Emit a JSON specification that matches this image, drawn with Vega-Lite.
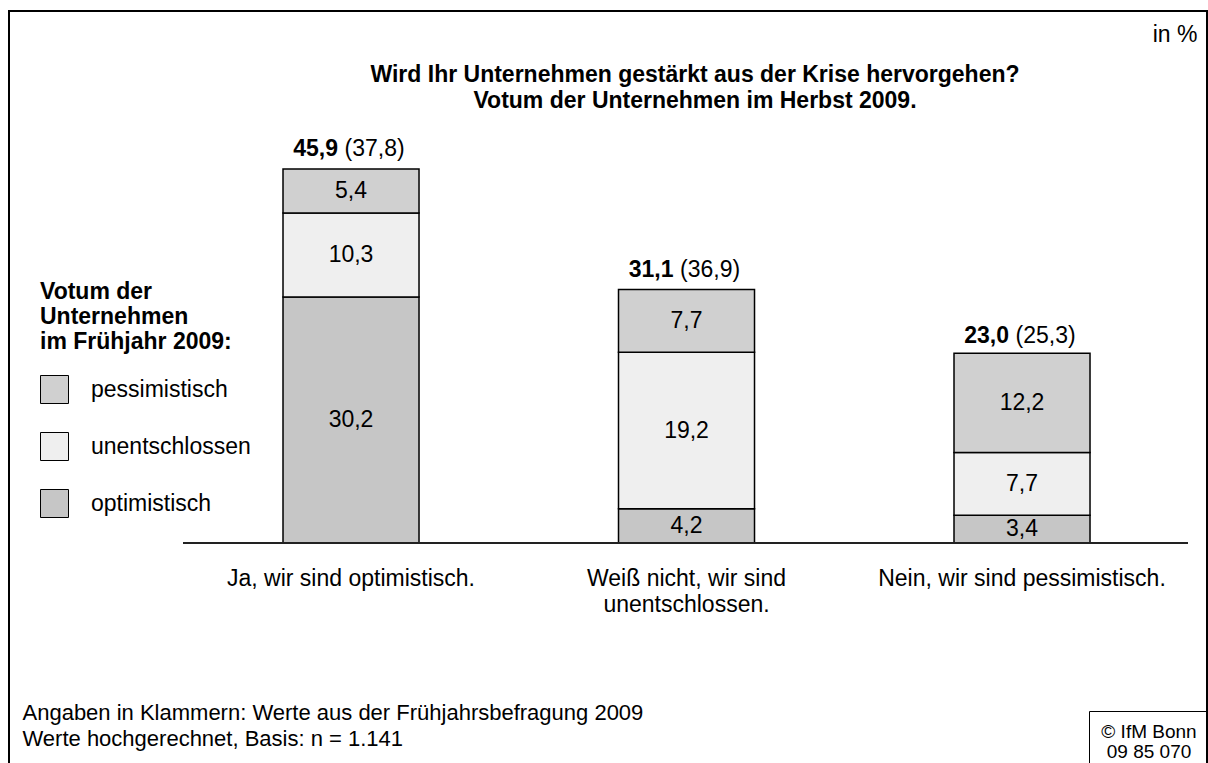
{
  "$schema": "https://vega.github.io/schema/vega-lite/v6.json",
  "autosize": {"type": "none"},
  "width": 1198,
  "height": 752,
  "padding": {"left": 9, "top": 11, "right": 1, "bottom": 0},
  "background": "white",
  "config": {
    "font": "Liberation Sans",
    "locale": {"number": {"decimal": ",", "thousands": ".", "grouping": [3], "currency": ["", " €"]}},
    "view": {"stroke": "#000000", "strokeWidth": 2, "strokeDash": [1950, 1198, 752]},
    "text": {"color": "#000000"}
  },
  "title": {
    "text": ["Wird Ihr Unternehmen gestärkt aus der Krise hervorgehen?", "Votum der Unternehmen im Herbst 2009."],
    "anchor": "middle",
    "align": "center",
    "frame": "group",
    "dx": 87,
    "offset": -102,
    "fontSize": 23,
    "fontWeight": "bold",
    "lineHeight": 26,
    "color": "#000000"
  },
  "datasets": {
    "segmente": [
      {"antwort": "Ja, wir sind optimistisch.", "votum": "optimistisch", "rang": 1, "anteil": 30.2},
      {"antwort": "Ja, wir sind optimistisch.", "votum": "unentschlossen", "rang": 2, "anteil": 10.3},
      {"antwort": "Ja, wir sind optimistisch.", "votum": "pessimistisch", "rang": 3, "anteil": 5.4},
      {"antwort": "Weiß nicht, wir sind unentschlossen.", "votum": "optimistisch", "rang": 1, "anteil": 4.2},
      {"antwort": "Weiß nicht, wir sind unentschlossen.", "votum": "unentschlossen", "rang": 2, "anteil": 19.2},
      {"antwort": "Weiß nicht, wir sind unentschlossen.", "votum": "pessimistisch", "rang": 3, "anteil": 7.7},
      {"antwort": "Nein, wir sind pessimistisch.", "votum": "optimistisch", "rang": 1, "anteil": 3.4},
      {"antwort": "Nein, wir sind pessimistisch.", "votum": "unentschlossen", "rang": 2, "anteil": 7.7},
      {"antwort": "Nein, wir sind pessimistisch.", "votum": "pessimistisch", "rang": 3, "anteil": 12.2}
    ],
    "gesamt": [
      {"antwort": "Ja, wir sind optimistisch.", "herbst": 45.9, "fruehjahr": 37.8},
      {"antwort": "Weiß nicht, wir sind unentschlossen.", "herbst": 31.1, "fruehjahr": 36.9},
      {"antwort": "Nein, wir sind pessimistisch.", "herbst": 23.0, "fruehjahr": 25.3}
    ]
  },
  "layer": [
    {
      "data": {"name": "segmente"},
      "mark": {"type": "bar", "stroke": "#000000", "strokeWidth": 1.5},
      "encoding": {
        "x": {
          "field": "antwort",
          "type": "nominal",
          "sort": null,
          "scale": {
            "domain": ["Ja, wir sind optimistisch.", "Weiß nicht, wir sind unentschlossen.", "Nein, wir sind pessimistisch."],
            "paddingInner": 0.5946,
            "paddingOuter": 0.5827,
            "align": 0.7008
          },
          "axis": {
            "orient": "bottom",
            "offset": -220,
            "domain": false,
            "ticks": false,
            "grid": false,
            "labelAngle": 0,
            "labelPadding": 24,
            "labelBaseline": "top",
            "labelFontSize": 23,
            "labelColor": "#000000",
            "labelLimit": 0,
            "labelLineHeight": 26,
            "labelExpr": "datum.value == 'Weiß nicht, wir sind unentschlossen.' ? ['Weiß nicht, wir sind', 'unentschlossen.'] : datum.value",
            "title": ["Angaben in Klammern: Werte aus der Frühjahrsbefragung 2009", "Werte hochgerechnet, Basis: n = 1.141"],
            "titleX": 13,
            "titleY": 159,
            "titleAlign": "left",
            "titleAnchor": "start",
            "titleBaseline": "top",
            "titleFontSize": 22,
            "titleFontWeight": "normal",
            "titleLineHeight": 26,
            "titleColor": "#000000"
          }
        },
        "y": {
          "field": "anteil",
          "type": "quantitative",
          "stack": "zero",
          "scale": {"domain": [-26.99, 65.28], "nice": false, "zero": false},
          "axis": {
            "labels": false,
            "ticks": false,
            "domain": false,
            "grid": false,
            "title": "in %",
            "titleAngle": 0,
            "titleX": 1188,
            "titleY": 30,
            "titleAlign": "right",
            "titleBaseline": "alphabetic",
            "titleFontSize": 23,
            "titleFontWeight": "normal",
            "titleColor": "#000000"
          }
        },
        "fill": {
          "field": "votum",
          "type": "nominal",
          "scale": {
            "domain": ["pessimistisch", "unentschlossen", "optimistisch"],
            "range": ["#d0d0d0", "#efefef", "#c6c6c6"]
          },
          "legend": {
            "orient": "none",
            "legendX": 31,
            "legendY": 270,
            "padding": 0,
            "title": ["Votum der", "Unternehmen", "im Frühjahr 2009:"],
            "titleFontSize": 23,
            "titleFontWeight": "bold",
            "titleLineHeight": 25,
            "titlePadding": 21,
            "titleColor": "#000000",
            "titleLimit": 0,
            "symbolType": "square",
            "symbolSize": 784,
            "symbolStrokeColor": "#000000",
            "symbolStrokeWidth": 1,
            "labelFontSize": 23,
            "labelColor": "#000000",
            "labelOffset": 22,
            "labelLimit": 0,
            "rowPadding": 24
          }
        },
        "order": {"field": "rang", "type": "quantitative"}
      }
    },
    {
      "data": {"name": "segmente"},
      "mark": {"type": "text", "fontSize": 23, "baseline": "middle", "align": "center"},
      "encoding": {
        "x": {"field": "antwort", "type": "nominal", "sort": null},
        "y": {"field": "anteil", "type": "quantitative", "stack": "zero", "bandPosition": 0.5},
        "detail": {"field": "votum", "type": "nominal"},
        "order": {"field": "rang", "type": "quantitative"},
        "text": {"field": "anteil", "type": "quantitative", "format": ".1f"}
      }
    },
    {
      "data": {"values": [{"linie": "Grundlinie"}]},
      "mark": {"type": "rule", "color": "#222222", "strokeWidth": 2, "xOffset": -100, "x2Offset": 98},
      "encoding": {
        "x": {"datum": "Ja, wir sind optimistisch.", "type": "nominal", "bandPosition": 0},
        "x2": {"datum": "Nein, wir sind pessimistisch.", "bandPosition": 1},
        "y": {"datum": 0, "type": "quantitative"},
        "strokeDash": {
          "datum": "IfM",
          "type": "nominal",
          "scale": {"range": [[1, 0]]},
          "legend": {
            "orient": "none",
            "legendX": 1080,
            "legendY": 700,
            "padding": 12,
            "strokeColor": "#000000",
            "title": ["© IfM Bonn", "09 85 070"],
            "titleFontSize": 19,
            "titleFontWeight": "normal",
            "titleLineHeight": 20,
            "titleAlign": "center",
            "titleAnchor": "middle",
            "titleColor": "#000000",
            "titlePadding": 2,
            "labelExpr": "''",
            "labelFontSize": 1,
            "symbolSize": 0,
            "symbolOpacity": 0,
            "symbolStrokeWidth": 0
          }
        }
      }
    },
    {
      "data": {"name": "gesamt"},
      "mark": {"type": "text", "fontSize": 23, "fontWeight": "bold", "align": "right", "baseline": "alphabetic", "dx": -13, "dy": -13},
      "encoding": {
        "x": {"field": "antwort", "type": "nominal", "sort": null},
        "y": {"field": "herbst", "type": "quantitative"},
        "text": {"field": "herbst", "type": "quantitative", "format": ".1f"}
      }
    },
    {
      "data": {"name": "gesamt"},
      "mark": {
        "type": "text",
        "fontSize": 23,
        "align": "left",
        "baseline": "alphabetic",
        "dx": -6.5,
        "dy": -13,
        "text": {"expr": "'(' + replace(format(datum.fruehjahr, '.1f'), '.', ',') + ')'"}
      },
      "encoding": {
        "x": {"field": "antwort", "type": "nominal", "sort": null},
        "y": {"field": "herbst", "type": "quantitative"}
      }
    }
  ]
}
